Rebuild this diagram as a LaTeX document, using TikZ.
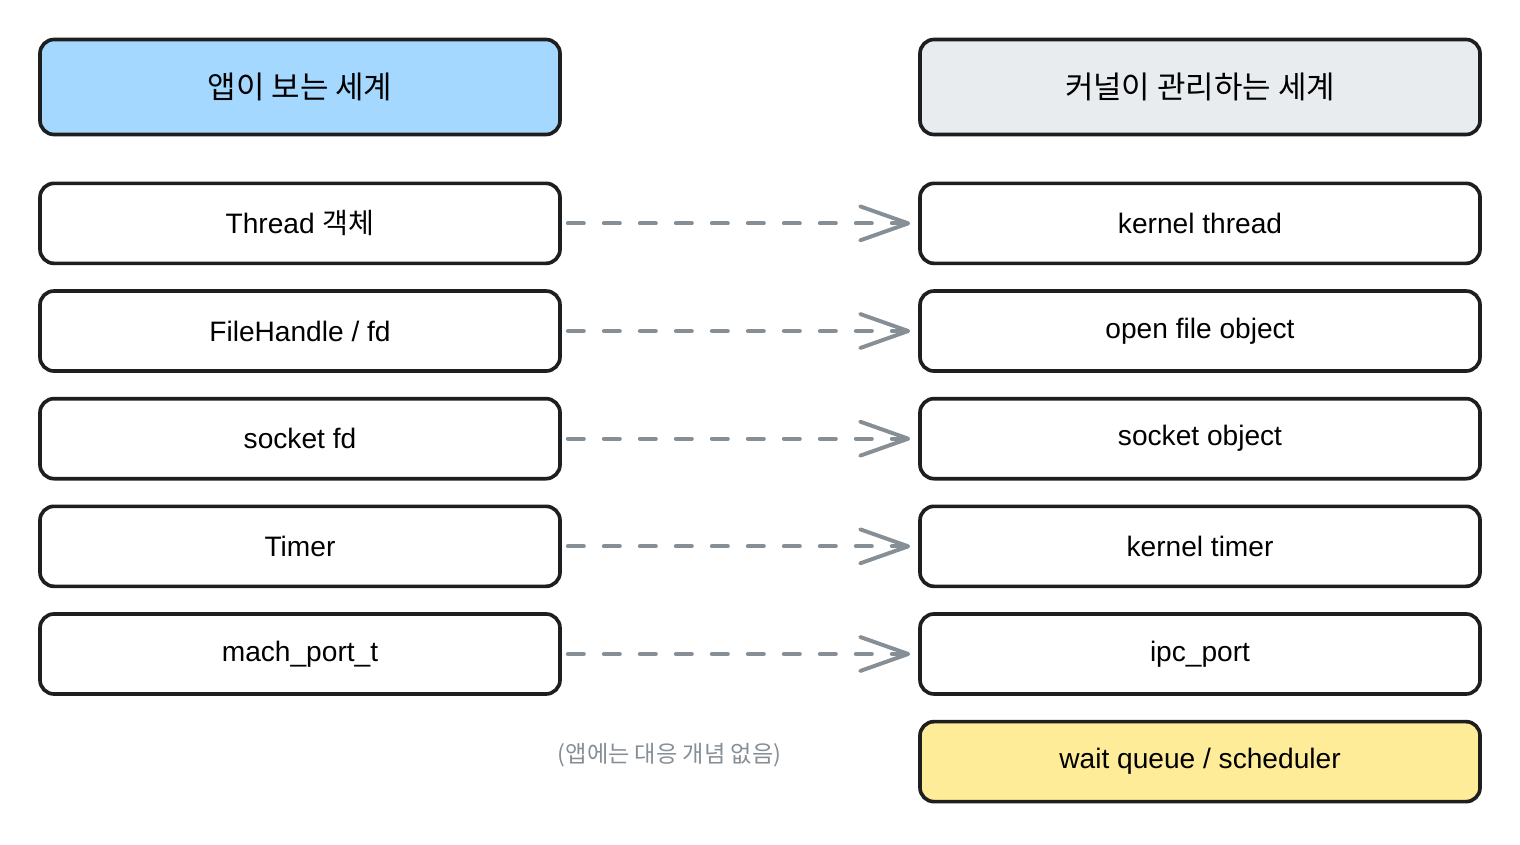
\documentclass[tikz,border=0pt]{standalone}
\usepackage{fontspec}
\setmainfont{Liberation Sans}
\newfontfamily\kr{Noto Sans CJK KR}
\usepackage{tikz}
\usetikzlibrary{arrows.meta,positioning}
\definecolor{AppBlue}{HTML}{A5D8FF}
\definecolor{KernGray}{HTML}{E9ECEF}
\definecolor{WaitYellow}{HTML}{FFEC99}
\definecolor{WireGray}{HTML}{868E96}
\definecolor{InkBlack}{HTML}{1E1E1E}
\tikzset{
  world/.style={draw=InkBlack, line width=2.6pt, rounded corners=0.35cm,
    minimum height=2.375cm, font=\fontsize{22}{26}\selectfont\kr},
  appworld/.style={world, fill=AppBlue, minimum width=13cm},
  kernelworld/.style={world, fill=KernGray, minimum width=14cm},
  item/.style={draw=InkBlack, line width=2.6pt, rounded corners=0.35cm, fill=white,
    minimum height=2cm, font=\fontsize{20}{24}\selectfont},
  appitem/.style={item, minimum width=13cm},
  kernelitem/.style={item, minimum width=14cm},
  waititem/.style={kernelitem, fill=WaitYellow},
  mapwire/.style={draw=WireGray, line width=2.8pt, line cap=round,
    dash pattern=on 0.4cm off 0.5cm,
    -{Straight Barb[length=1.2cm, width=0.85cm, round]},
    shorten <=0.15cm, shorten >=0.2cm},
  note/.style={text=WireGray, font=\fontsize{16.5}{20}\selectfont\kr}
}

\begin{document}
\begin{tikzpicture}[node distance=0.6cm]
  \useasboundingbox (0,0) rectangle (38,-21.1);
  % headers
  \node[appworld] (app) at (7.5,-2.175) {앱이 보는 세계};
  \node[kernelworld] (kern) at (30,-2.175) {커널이 관리하는 세계};
  % app side
  \node[appitem, below=1.13cm of app] (thread) {Thread {\kr 객체}};
  \node[appitem, below=of thread] (fh) {FileHandle / fd};
  \node[appitem, below=of fh] (sock) {socket fd};
  \node[appitem, below=of sock] (timer) {Timer};
  \node[appitem, below=of timer] (mach) {mach\_port\_t};
  % kernel side
  \node[kernelitem, below=1.13cm of kern] (kthread) {kernel thread};
  \node[kernelitem, below=of kthread] (ofile) {open file object};
  \node[kernelitem, below=of ofile] (ksock) {socket object};
  \node[kernelitem, below=of ksock] (ktimer) {kernel timer};
  \node[kernelitem, below=of ktimer] (ipc) {ipc\_port};
  \node[waititem, below=of ipc] (wq) {wait queue / scheduler};
  \node[note, left=3.3cm of wq, yshift=0.15cm] (none) {(앱에는 대응 개념 없음)};
  % mappings
  \draw[mapwire] (thread) -- (kthread);
  \draw[mapwire] (fh) -- (ofile);
  \draw[mapwire] (sock) -- (ksock);
  \draw[mapwire] (timer) -- (ktimer);
  \draw[mapwire] (mach) -- (ipc);
\end{tikzpicture}
\end{document}
